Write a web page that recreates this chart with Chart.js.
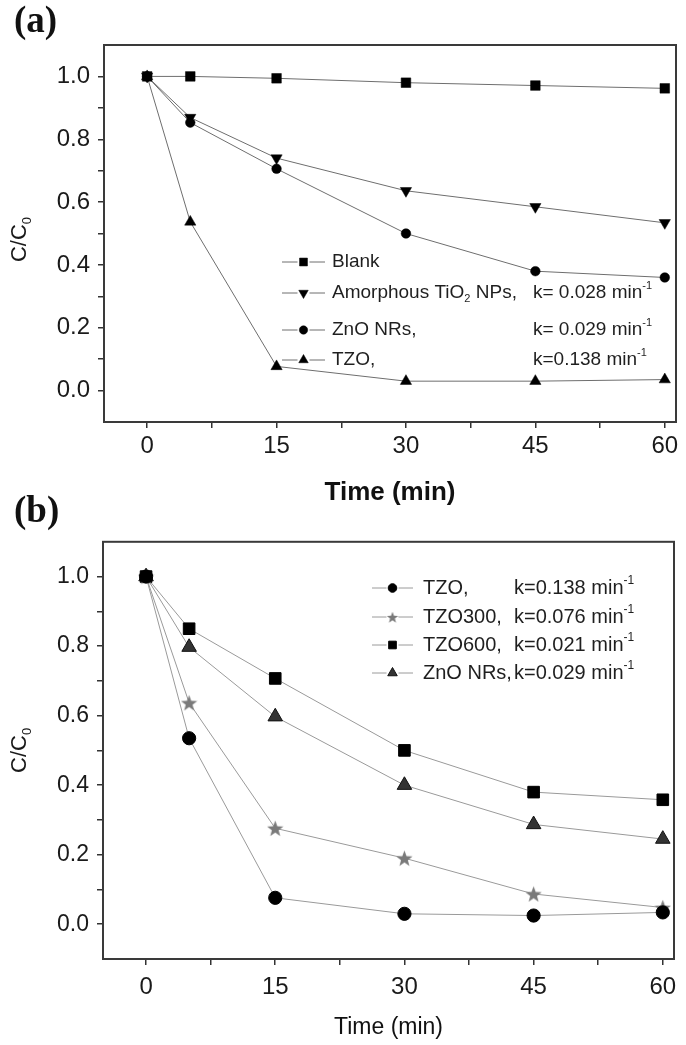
<!DOCTYPE html>
<html>
<head>
<meta charset="utf-8">
<script src="https://cdn.jsdelivr.net/npm/chart.js@4.4.0/dist/chart.umd.min.js"></script>
<style>
html, body { margin: 0; padding: 0; background: #fff; }
body { width: 686px; height: 1045px; position: relative; overflow: hidden; }
.panel { position: absolute; left: 0; width: 686px; }
.tag { position: absolute; font: bold 37px "Liberation Serif", "Times New Roman", serif; color: #111; }
</style>
</head>
<body>
<div class="panel" style="top:0;height:520px"><canvas id="chartA" width="686" height="520"></canvas></div>
<div class="panel" style="top:520px;height:525px"><canvas id="chartB" width="686" height="525"></canvas></div>
<div class="tag" style="left:14px;top:-2px">(a)</div>
<div class="tag" style="left:14px;top:488px">(b)</div>
<script>
// sampling times
const timeMin = [0, 5, 15, 30, 45, 60];

// axis ticks
const xTickValues = [0, 7.5, 15, 22.5, 30, 37.5, 45, 52.5, 60];
const xTickLabels = ['0', '', '15', '', '30', '', '45', '', '60'];
const yTickValues = [0, 0.1, 0.2, 0.3, 0.4, 0.5, 0.6, 0.7, 0.8, 0.9, 1.0];
const yTickLabels = ['0.0', '', '0.2', '', '0.4', '', '0.6', '', '0.8', '', '1.0'];

// (a) C/C0 values
const blankA = [1.0, 1.0, 0.994, 0.98, 0.971, 0.962];
const tio2A = [1.0, 0.869, 0.74, 0.636, 0.585, 0.534];
const znoA = [1.0, 0.853, 0.706, 0.50, 0.38, 0.36];
const tzoA = [1.0, 0.537, 0.077, 0.03, 0.03, 0.035];

// (b) C/C0 values
const tzoB = [1.0, 0.535, 0.076, 0.03, 0.025, 0.034];
const tzo300B = [1.0, 0.637, 0.276, 0.19, 0.087, 0.048];
const tzo600B = [1.0, 0.85, 0.707, 0.50, 0.38, 0.358];
const znoB = [1.0, 0.797, 0.597, 0.40, 0.287, 0.245];

// legend text
const namesA = [[['Blank']], [['Amorphous TiO'], ['2', 'sub'], [' NPs,']], [['ZnO NRs,']], [['TZO,']]];
const ratesA = ['', 'k= 0.028', 'k= 0.029', 'k=0.138'];
const namesB = [[['TZO,']], [['TZO300,']], [['TZO600,']], [['ZnO NRs,']]];
const ratesB = ['k=0.138', 'k=0.076', 'k=0.021', 'k=0.029'];

const SANS = '"Liberation Sans", Arial, sans-serif';

const pts = arr => timeMin.map((t, i) => ({ x: t, y: arr[i] }));

function makeStar(size, fill) {
    const c = document.createElement('canvas');
    c.width = c.height = size;
    const g = c.getContext('2d');
    g.beginPath();
    for (let i = 0; i < 10; i++) {
        const r = i % 2 ? size * 0.21 : size * 0.5;
        const a = -Math.PI / 2 + i * Math.PI / 5;
        g.lineTo(size / 2 + r * Math.cos(a), size / 2 + 0.8 + r * Math.sin(a));
    }
    g.closePath();
    g.fillStyle = fill;
    g.fill();
    return c;
}

// text with sub/superscripts
function drawRich(ctx, segs, x, y, size, family, measureOnly) {
    segs.forEach(([t, kind]) => {
        const s = kind ? Math.round(size * 0.6) : size;
        ctx.font = s + 'px ' + family;
        const dy = kind === 'sub' ? size * 0.32 : kind === 'sup' ? -size * 0.38 : 0;
        if (!measureOnly) ctx.fillText(t, x, y + dy);
        x += ctx.measureText(t).width;
    });
    return x;
}

const panelDecor = {
    id: 'panelDecor',
    afterDraw(chart, args, o) {
        const { ctx, chartArea: a } = chart;
        ctx.save();
        // frame
        ctx.strokeStyle = '#3a3a3a';
        ctx.lineWidth = 2;
        ctx.strokeRect(a.left, a.top, a.right - a.left, a.bottom - a.top);

        // y title C/C0
        ctx.save();
        ctx.fillStyle = '#1a1a1a';
        ctx.textBaseline = 'middle';
        const seg = [['C/C'], ['0', 'sub']];
        const w = drawRich(ctx, seg, 0, 0, o.ySize, o.yFamily, true);
        ctx.translate(o.yTitleX, (a.top + a.bottom) / 2 + o.yShift);
        ctx.rotate(-Math.PI / 2);
        drawRich(ctx, seg, -w / 2, 0, o.ySize, o.yFamily);
        ctx.restore();

        // legend
        ctx.textBaseline = 'middle';
        o.rows.forEach((ry, i) => {
            const ds = chart.data.datasets[o.order[i]];
            ctx.strokeStyle = ds.borderColor;
            ctx.lineWidth = 1;
            ctx.beginPath();
            ctx.moveTo(o.lineX0, ry);
            ctx.lineTo(o.lineX1, ry);
            ctx.stroke();
            const mx = (o.lineX0 + o.lineX1) / 2;
            ctx.fillStyle = '#fff';
            ctx.fillRect(mx - o.gap, ry - o.gap, o.gap * 2, o.gap * 2);
            ctx.fillStyle = ds.pointBackgroundColor;
            ctx.strokeStyle = ds.pointBorderColor;
            ctx.lineWidth = ds.pointBorderWidth;
            Chart.helpers.drawPoint(ctx, {
                pointStyle: ds.legendStyle || ds.pointStyle,
                rotation: ds.pointRotation || 0,
                radius: ds.legendRadius,
                borderWidth: ds.pointBorderWidth
            }, mx, ry);
            ctx.fillStyle = '#1f1f1f';
            drawRich(ctx, o.names[i], o.textX, ry, o.size, o.family);
            if (o.rates[i]) {
                drawRich(ctx, [[o.rates[i] + ' min'], ['-1', 'sup']], o.kX, ry, o.size, o.family);
            }
        });
        ctx.restore();
    }
};

function makeScales(cfg) {
    return {
        x: {
            type: 'linear',
            min: -5,
            max: 61.3,
            afterBuildTicks: s => { s.ticks = xTickValues.map(v => ({ value: v })); },
            afterFit: s => { s.height = cfg.xHeight; },
            ticks: {
                callback: (v, i) => xTickLabels[i],
                font: { family: SANS, size: cfg.xTickSize },
                color: '#1a1a1a',
                padding: cfg.xTickPad,
                maxRotation: 0,
                autoSkip: false
            },
            grid: { drawOnChartArea: false, drawTicks: true, tickLength: 6, color: '#333', lineWidth: 1.5 },
            border: { display: true, color: '#3a3a3a', width: 2 },
            title: {
                display: true,
                text: 'Time (min)',
                font: { family: SANS, size: cfg.titleSize, weight: cfg.titleWeight },
                color: '#111',
                padding: { top: 0, bottom: cfg.titlePad }
            }
        },
        y: {
            type: 'linear',
            min: -0.1,
            max: 1.1,
            afterBuildTicks: s => { s.ticks = yTickValues.map(v => ({ value: v })); },
            afterFit: s => { s.width = cfg.yWidth; },
            ticks: {
                callback: (v, i) => yTickLabels[i],
                font: { family: SANS, size: cfg.yTickSize },
                color: '#1a1a1a',
                padding: 8,
                autoSkip: false
            },
            grid: { drawOnChartArea: false, drawTicks: true, tickLength: 6, color: '#333', lineWidth: 1.5 },
            border: { display: true, color: '#3a3a3a', width: 2 }
        }
    };
}

// ---------- (a) ----------
const lineA = '#6e6e6e';
new Chart(document.getElementById('chartA'), {
    type: 'line',
    data: {
        datasets: [
            { label: 'Blank', data: pts(blankA), pointStyle: 'rect', pointRadius: 6.8, legendRadius: 5.6 },
            { label: 'Amorphous TiO2 NPs', data: pts(tio2A), pointStyle: 'triangle', pointRotation: 180, pointRadius: 6.5, legendRadius: 5.5 },
            { label: 'ZnO NRs', data: pts(znoA), pointStyle: 'circle', pointRadius: 4.8, legendRadius: 4.2 },
            { label: 'TZO', data: pts(tzoA), pointStyle: 'triangle', pointRadius: 6.5, legendRadius: 5.5 }
        ].map(d => Object.assign({
            borderColor: lineA, borderWidth: 1,
            pointBackgroundColor: '#000', pointBorderColor: '#000', pointBorderWidth: 0.5,
            tension: 0, fill: false
        }, d))
    },
    options: {
        responsive: false,
        devicePixelRatio: 1,
        animation: false,
        layout: { padding: { top: 45, right: 10, left: 0, bottom: 0 } },
        scales: makeScales({
            xHeight: 98, yWidth: 104, xTickSize: 24, yTickSize: 24, xTickPad: 4,
            titleSize: 26, titleWeight: 'bold', titlePad: 12
        }),
        plugins: {
            legend: { display: false },
            tooltip: { enabled: false },
            panelDecor: {
                yTitleX: 20, ySize: 22, yFamily: SANS, yShift: 6,
                rows: [262, 293, 330, 360], order: [0, 1, 2, 3],
                lineX0: 282, lineX1: 325, gap: 6, textX: 332, kX: 533,
                names: namesA, rates: ratesA, size: 19, family: SANS
            }
        }
    },
    plugins: [panelDecor]
});

// ---------- (b) ----------
const lineB = '#9a9a9a';
const starImg = makeStar(17, '#7a7a7a');
const starLegend = makeStar(12, '#7a7a7a');
new Chart(document.getElementById('chartB'), {
    type: 'line',
    data: {
        datasets: [
            { label: 'TZO', data: pts(tzoB), pointStyle: 'circle', pointRadius: 6.6, legendRadius: 4.3,
              pointBackgroundColor: '#000', pointBorderColor: '#000' },
            { label: 'TZO300', data: pts(tzo300B), pointStyle: starImg, legendStyle: starLegend, pointRadius: 8, legendRadius: 6,
              pointBackgroundColor: '#7a7a7a', pointBorderColor: '#7a7a7a' },
            { label: 'TZO600', data: pts(tzo600B), pointStyle: 'rect', pointRadius: 8.2, legendRadius: 5.4,
              pointBackgroundColor: '#000', pointBorderColor: '#000' },
            { label: 'ZnO NRs', data: pts(znoB), pointStyle: 'triangle', pointRadius: 8.4, legendRadius: 5.5,
              pointBackgroundColor: '#333', pointBorderColor: '#111' }
        ].map(d => Object.assign({
            borderColor: lineB, borderWidth: 1, pointBorderWidth: 1,
            tension: 0, fill: false
        }, d))
    },
    options: {
        responsive: false,
        devicePixelRatio: 1,
        animation: false,
        layout: { padding: { top: 15, right: 12, left: 0, bottom: 0 } },
        scales: makeScales({
            xHeight: 86, yWidth: 103, xTickSize: 24, yTickSize: 23, xTickPad: 8,
            titleSize: 23, titleWeight: 'normal', titlePad: 4
        }),
        plugins: {
            legend: { display: false },
            tooltip: { enabled: false },
            panelDecor: {
                yTitleX: 20, ySize: 22, yFamily: SANS, yShift: 0,
                rows: [68, 97, 125, 153], order: [0, 1, 2, 3],
                lineX0: 372, lineX1: 413, gap: 6, textX: 423, kX: 514,
                names: namesB, rates: ratesB, size: 20, family: SANS
            }
        }
    },
    plugins: [panelDecor]
});
</script>
</body>
</html>
